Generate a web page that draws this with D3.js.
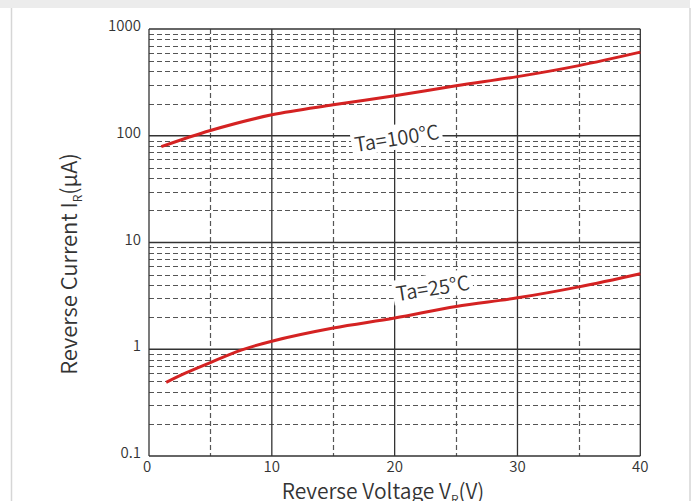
<!DOCTYPE html>
<html>
<head>
<meta charset="utf-8">
<script src="https://cdn.jsdelivr.net/npm/d3@7"></script>
<style>
  body { margin: 0; background: #fff; }
  svg { display: block; }
  text { font-family: "Noto Sans CJK SC", "Noto Sans", sans-serif; font-weight: 350; fill: #333; }
</style>
</head>
<body>
<div id="chart"></div>
<script>
// Reverse voltage (V) and reverse current (uA)
const voltage = [1, 5, 10, 15, 20, 25, 30, 35, 40];
const current100 = [79, 112, 157, 195, 237, 294, 358, 454, 607];
const voltage25 = [1.4, 3, 5, 7.5, 10, 15, 20, 25, 30, 35, 40];
const current25 = [0.49, 0.6, 0.75, 0.98, 1.19, 1.58, 1.96, 2.52, 3.03, 3.84, 5.1];

const xTicks = [0, 10, 20, 30, 40];
const xMinor = [5, 15, 25, 35];
const yTicks = [0.1, 1, 10, 100, 1000];

const W = 695, H = 501;
const margin = { top: 29, right: 54, bottom: 45, left: 149 };

const svg = d3.select("#chart").append("svg").attr("width", W).attr("height", H);

// page frame
svg.append("rect").attr("x", 0).attr("y", 0).attr("width", 690).attr("height", 8).attr("fill", "#ececec");
svg.append("line").attr("x1", 11.5).attr("x2", 11.5).attr("y1", 8).attr("y2", H).attr("stroke", "#d6d6d6").attr("stroke-width", 1.5);
svg.append("line").attr("x1", 690).attr("x2", 690).attr("y1", 8).attr("y2", H).attr("stroke", "#d6d6d6").attr("stroke-width", 1.5);

const x = d3.scaleLinear().domain([0, 40]).range([margin.left, W - margin.right - 0.7]);
const y = d3.scaleLog().domain([0.1, 1000]).range([H - margin.bottom, margin.top]);

const grid = svg.append("g");

// minor horizontal dashed lines (2..9 per decade)
const minorY = [];
[0.1, 1, 10, 100].forEach((d) => {
  for (let k = 2; k <= 9; k++) minorY.push(d * k);
});
grid.selectAll(".hminor").data(minorY).enter().append("line")
  .attr("x1", x(0)).attr("x2", x(40))
  .attr("y1", (d) => Math.round(y(d)) + 0.5).attr("y2", (d) => Math.round(y(d)) + 0.5)
  .attr("stroke", "#555").attr("stroke-width", 1.2).attr("stroke-dasharray", "5,3");

// vertical dashed lines
grid.selectAll(".vminor").data(xMinor).enter().append("line")
  .attr("x1", (d) => Math.round(x(d)) + 0.5).attr("x2", (d) => Math.round(x(d)) + 0.5)
  .attr("y1", y(1000)).attr("y2", y(0.1))
  .attr("stroke", "#555").attr("stroke-width", 1.2).attr("stroke-dasharray", "5,3");

// solid major lines
grid.selectAll(".hmajor").data(yTicks).enter().append("line")
  .attr("x1", x(0)).attr("x2", x(40))
  .attr("y1", (d) => y(d)).attr("y2", (d) => y(d))
  .attr("stroke", "#333").attr("stroke-width", 1.3);
grid.selectAll(".vmajor").data(xTicks).enter().append("line")
  .attr("x1", (d) => x(d)).attr("x2", (d) => x(d))
  .attr("y1", y(1000)).attr("y2", y(0.1))
  .attr("stroke", "#333").attr("stroke-width", 1.3);

// tick labels
svg.selectAll(".ylab").data(yTicks).enter().append("text")
  .attr("x", x(0) - 8).attr("y", (d) => y(d) - 2)
  .attr("text-anchor", "end").attr("dominant-baseline", "middle")
  .style("font-size", "15px")
  .text((d) => d);
svg.selectAll(".xlab").data(xTicks).enter().append("text")
  .attr("x", (d) => x(d) - (d === 0 ? 2 : 0)).attr("y", y(0.1) + 12)
  .attr("text-anchor", "middle").attr("dominant-baseline", "middle")
  .style("font-size", "15px")
  .text((d) => d);

// curves
const line = d3.line()
  .x((d) => x(d[0]))
  .y((d) => y(d[1]))
  .curve(d3.curveCatmullRom.alpha(0.5));

const series = [
  { xs: voltage, ys: current100 },
  { xs: voltage25, ys: current25 },
];

// labels on curves, with white backing
const labels = [
  { text: "Ta=100°C", cx: 397, cy: 140, angle: -9 },
  { text: "Ta=25°C", cx: 433, cy: 290, angle: -9 },
];
labels.forEach((l) => {
  const g = svg.append("g").attr("transform", `translate(${l.cx},${l.cy}) rotate(${l.angle})`);
  const bg = g.append("rect").attr("fill", "#fff");
  const t = g.append("text").attr("text-anchor", "middle").attr("dominant-baseline", "middle")
    .style("font-size", "20px").text(l.text);
  const bb = t.node().getBBox();
  bg.attr("x", bb.x - 3).attr("y", bb.y + 2).attr("width", bb.width + 6).attr("height", bb.height - 4);
});

svg.selectAll(".curve").data(series).enter().append("path")
  .attr("d", (s) => line(s.xs.map((v, i) => [v, s.ys[i]])))
  .attr("fill", "none").attr("stroke", "#d42222").attr("stroke-width", 3);

// axis titles
const xt = svg.append("text").attr("x", 383).attr("y", 499)
  .attr("text-anchor", "middle").style("font-size", "21px");
xt.append("tspan").text("Reverse Voltage V");
xt.append("tspan").attr("dy", 5).style("font-size", "12px").text("R");
xt.append("tspan").attr("dy", -5).text("(V)");

const yt = svg.append("text").attr("transform", "translate(77,264) rotate(-90)")
  .attr("text-anchor", "middle").style("font-size", "22px");
yt.append("tspan").text("Reverse Current  I");
yt.append("tspan").attr("dy", 5).style("font-size", "12px").text("R");
yt.append("tspan").attr("dy", -5).text("(μA)");
</script>
</body>
</html>
